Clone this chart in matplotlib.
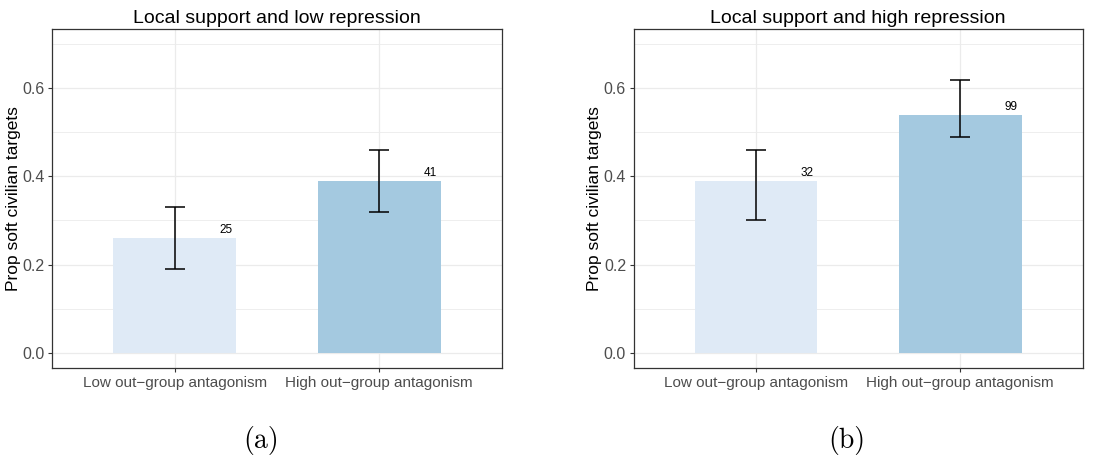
# Proportion of soft civilian targets by out-group antagonism (two panels)

import numpy as np
import matplotlib
matplotlib.use('Agg')
import matplotlib.pyplot as plt

# data
categories = ['Low out\u2212group antagonism', 'High out\u2212group antagonism']
titles = ['Local support and low repression', 'Local support and high repression']
captions = ['(a)', '(b)']

props_low_rep = [0.26, 0.39]
lower_low_rep = [0.19, 0.32]
upper_low_rep = [0.33, 0.46]
n_low_rep = [25, 41]

props_high_rep = [0.39, 0.54]
lower_high_rep = [0.30, 0.49]
upper_high_rep = [0.46, 0.62]
n_high_rep = [32, 99]

bar_colors = ['#dfeaf6', '#a4c9e0']
yticks = [0.0, 0.2, 0.4, 0.6]
yticks_minor = [0.1, 0.3, 0.5, 0.7]

plt.rcParams['font.family'] = ['Liberation Sans', 'DejaVu Sans']

fig = plt.figure(figsize=(10.94, 4.59), dpi=100)
ax_a = fig.add_axes([0.0475, 0.1983, 0.4113, 0.7386])
ax_b = fig.add_axes([0.5793, 0.1983, 0.4104, 0.7386])

panels = [
    (ax_a, props_low_rep, lower_low_rep, upper_low_rep, n_low_rep),
    (ax_b, props_high_rep, lower_high_rep, upper_high_rep, n_high_rep),
]

for i, (ax, props, lo, hi, ns) in enumerate(panels):
    x = np.arange(1, len(categories) + 1)
    props = np.array(props)
    err = [props - np.array(lo), np.array(hi) - props]

    ax.set_axisbelow(True)
    ax.bar(x, props, width=0.6, color=bar_colors, zorder=2)
    ax.errorbar(x, props, yerr=err, fmt='none', ecolor='black',
                elinewidth=1.1, capsize=7, capthick=1.1, zorder=3)
    for xi, p, n in zip(x, props, ns):
        ax.text(xi + 0.25, p + 0.005, str(n), ha='center', va='bottom',
                fontsize=8.5, color='black', zorder=4)

    ax.set_xlim(0.4, 2.6)
    ax.set_ylim(-0.035, 0.735)
    ax.set_xticks(x)
    ax.set_xticklabels(categories, fontsize=11, color='#4d4d4d')
    ax.set_yticks(yticks)
    ax.set_yticklabels(['%.1f' % t for t in yticks], fontsize=11.5, color='#4d4d4d')
    ax.set_yticks(yticks_minor, minor=True)
    ax.set_xticks([1.5], minor=True)
    ax.tick_params(which='minor', length=0)
    ax.tick_params(which='major', length=3, color='#333333', width=0.8, pad=2.5)
    ax.grid(True, which='major', color='#ebebeb', linewidth=0.9)
    ax.grid(True, which='minor', axis='y', color='#ebebeb', linewidth=0.6)
    for s in ax.spines.values():
        s.set_color('#333333')
        s.set_linewidth(0.9)

    ax.set_ylabel('Prop soft civilian targets', fontsize=12.5, color='black', labelpad=1)
    ax.set_title(titles[i], fontsize=14, color='black', pad=4)

# sub-figure captions
fig.text(0.2386, 0.04, captions[0], ha='center', va='center', fontsize=20, family='cmr10')
fig.text(0.7742, 0.04, captions[1], ha='center', va='center', fontsize=20, family='cmr10')

fig.savefig('out.png', dpi=100)
